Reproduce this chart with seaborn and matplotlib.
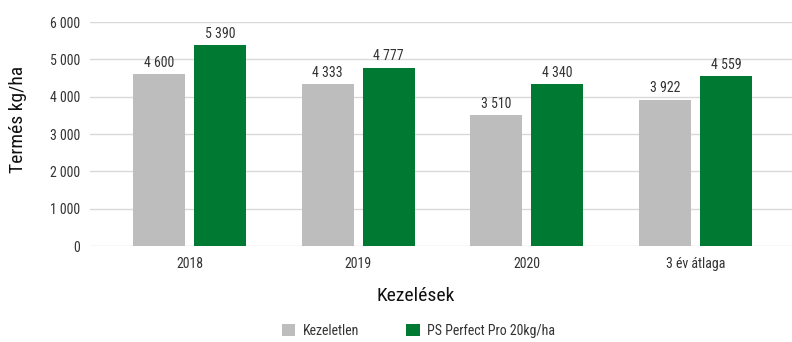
import matplotlib
matplotlib.use("Agg")
import matplotlib.pyplot as plt
import pandas as pd
import seaborn as sns

# Yield data (kg/ha) per year and treatment
years = ["2018", "2019", "2020", "3 év átlaga"]
untreated = [4600, 4333, 3510, 3922]
treated = [5390, 4777, 4340, 4559]
series_names = ["Kezeletlen", "PS Perfect Pro 20kg/ha"]
colors = ["#BDBDBD", "#007A33"]
y_ticks = [0, 1000, 2000, 3000, 4000, 5000, 6000]

df = pd.DataFrame({
    "Év": years * 2,
    "Termés": untreated + treated,
    "Kezelés": [series_names[0]] * len(years) + [series_names[1]] * len(years),
})

sns.set_theme(style="white")
plt.rcParams["font.family"] = ["Roboto Condensed", "DejaVu Sans"]
text_color = "#333333"

fig = plt.figure(figsize=(7.92, 3.42), dpi=100)
ax = fig.add_axes([90 / 792, 96 / 342, 702 / 792, 224 / 342])

sns.barplot(data=df, x="Év", y="Termés", hue="Kezelés", palette=colors,
            width=0.723, gap=0.148, saturation=1, linewidth=0, ax=ax, legend=True)

fmt = lambda v: f"{int(round(v)):,}".replace(",", " ")
for cont in ax.containers:
    ax.bar_label(cont, labels=[fmt(b.get_height()) for b in cont],
                 padding=3, fontsize=10, color=text_color)

ax.set_ylim(0, 6000)
ax.set_xlim(-0.589, 3.571)
ax.set_yticks(y_ticks)
ax.set_yticklabels([fmt(v) for v in y_ticks])
ax.yaxis.grid(True, color="#D9D9D9", linewidth=1)
ax.set_axisbelow(True)
for s in ax.spines.values():
    s.set_visible(False)
ax.tick_params(axis="y", length=0, pad=7, labelsize=10, labelcolor=text_color)
ax.tick_params(axis="x", length=0, pad=8, labelsize=10, labelcolor=text_color)

ax.set_ylabel("Termés kg/ha", fontsize=14, color="#111111", va="center")
ax.yaxis.set_label_coords(-0.1026, 0.567)
ax.set_xlabel("Kezelések", fontsize=14, color="#111111", va="center")
ax.xaxis.set_label_coords(0.464, -0.223)

ax.legend(loc="center", bbox_to_anchor=(0.468, -0.38), ncol=2, frameon=False,
          fontsize=10, handlelength=0.95, handleheight=0.95, handletextpad=0.55,
          columnspacing=3.4, labelcolor=text_color)

fig.savefig("out.png", dpi=100)
